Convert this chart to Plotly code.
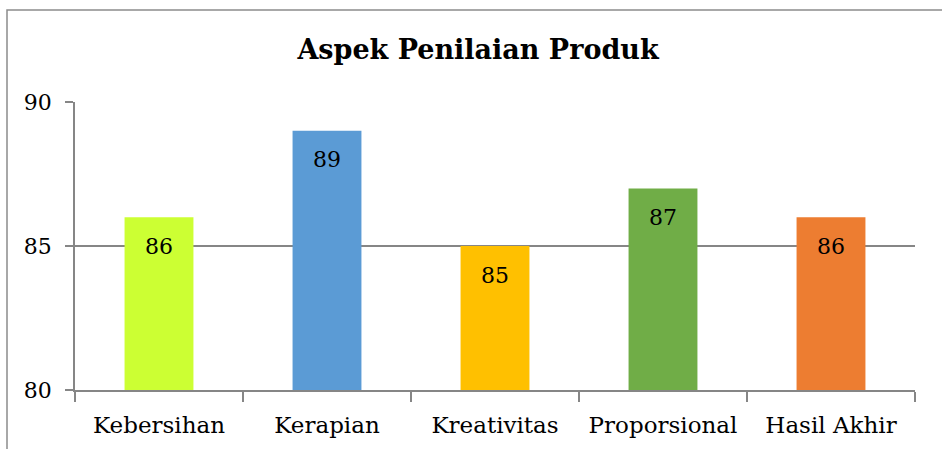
import plotly.graph_objects as go

categories = ["Kebersihan", "Kerapian", "Kreativitas", "Proporsional", "Hasil Akhir"]
values = [86, 89, 85, 87, 86]
colors = ["#CCFF33", "#5B9BD5", "#FFC000", "#70AD47", "#ED7D31"]
title_text = "Aspek Penilaian Produk"
y_ticks = [80, 85, 90]

W, H = 942, 449
L, R, T, B = 75, 27, 102, 59
pw, ph = W - L - R, H - T - B
FONT = "DejaVu Serif"

fig = go.Figure(go.Bar(
    x=categories, y=values, marker=dict(color=colors, line=dict(width=0)),
    hoverinfo="x+y",
))

for c, v in zip(categories, values):
    fig.add_annotation(x=c, y=v, text=str(v), showarrow=False, yshift=-29,
                       yanchor="middle", font=dict(family=FONT, size=22, color="black"))

fig.update_layout(
    width=W, height=H, margin=dict(l=L, r=R, t=T, b=B),
    paper_bgcolor="white", plot_bgcolor="white",
    font=dict(family=FONT, size=22, color="black"),
    bargap=0.59, showlegend=False,
    title=dict(text="<b>" + title_text + "</b>", x=478 / W, xanchor="center",
               y=1 - 50 / H, yanchor="middle", font=dict(size=27, family=FONT)),
    xaxis=dict(showline=True, linecolor="#868686", linewidth=1.5, ticks="outside",
               tickson="boundaries", ticklen=10, tickcolor="#868686", tickwidth=1.5,
               showgrid=False, tickfont=dict(size=23), ticklabelstandoff=14),
    yaxis=dict(range=[80, 90], tickvals=y_ticks, showline=True, linecolor="#868686",
               linewidth=1.5, ticks="outside", ticklen=8, tickcolor="#868686", tickwidth=1.5,
               showgrid=True, gridcolor="#868686", gridwidth=1.5, zeroline=False,
               tickfont=dict(size=22), ticklabelstandoff=9),
)

fig.add_shape(type="rect", xref="paper", yref="paper",
              x0=(7 - L) / pw, x1=(W + 20 - L) / pw,
              y0=-(B + 20) / ph, y1=1 + (T - 10) / ph,
              line=dict(color="#8c8c8c", width=1.5), fillcolor="rgba(0,0,0,0)", layer="below")

fig.write_html("out.html", config={"displayModeBar": False},
               post_script="document.body.style.margin='0px';")
